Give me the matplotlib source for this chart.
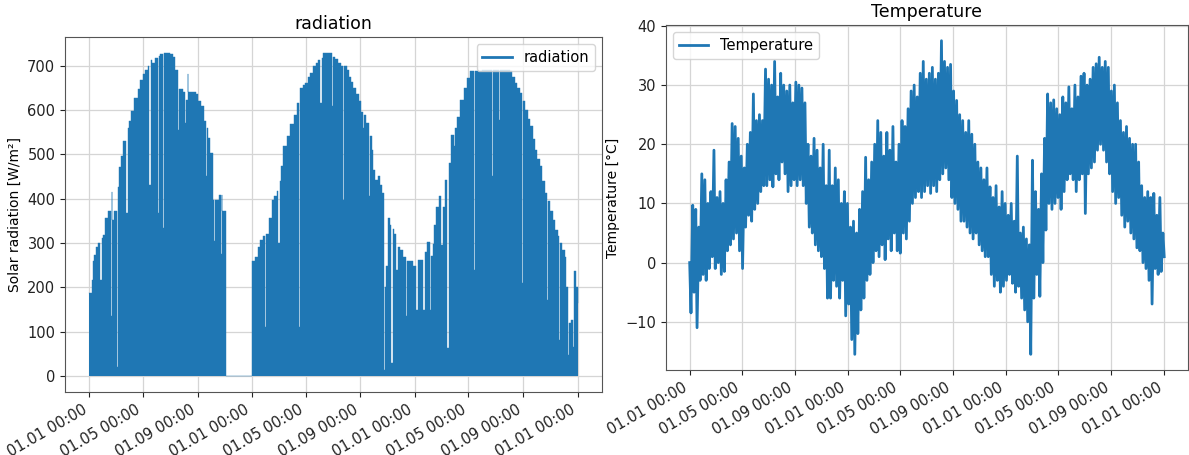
import numpy as np
import matplotlib
matplotlib.use('Agg')
import matplotlib.pyplot as plt
import matplotlib.dates as mdates
from matplotlib.lines import Line2D

# radiation: daily peak samples (day offset from 01.01 of first year, W/m2)
rad_day_y1 = [0, 6, 9, 10, 14, 20, 24.5, 27.5, 30, 36, 42, 47.5, 50.5, 51, 56,
              61.6, 64.6, 67, 71, 76, 82.5, 85.5, 88, 94, 101, 108, 114, 120, 125, 131,
              134.5, 137.5, 140, 146, 153, 156, 158, 164, 167, 172, 180, 188, 193,
              197.6, 200.6, 203, 210, 214, 217, 220, 222, 230, 238, 244, 250, 257,
              261, 264, 265, 271, 277, 279, 282, 285, 290, 294, 297, 298, 301, 307]
rad_peak_y1 = [187, 217, 260, 272, 290, 300, 217, 310, 318, 357, 372, 134, 414, 352, 372,
               21, 427, 470, 495, 529, 367, 560, 575, 597, 627, 646, 668, 680, 690, 700,
               431, 713, 705, 717, 367, 722, 725, 333, 728, 728, 726, 720, 690,
               555, 646, 646, 640, 570, 623, 680, 640, 640, 636, 620, 608, 574,
               450, 560, 537, 503, 397, 305, 397, 397, 409, 275, 409, 371, 371, 0]

rad_day_y2 = [365, 372, 378, 383, 390, 394, 397, 402, 409, 415, 420, 424, 427, 430, 435,
              443, 450, 458, 465, 469, 472, 478, 483, 490, 495, 502, 508, 513, 518, 521,
              524, 532, 539, 544, 547, 551, 558, 564, 569, 572, 577, 582, 587, 592, 598,
              604, 610, 614, 617, 621, 626, 629, 633, 637, 641, 647, 652, 656, 660, 663,
              666, 670, 674, 677, 680, 684, 688, 692, 696, 703, 709, 712, 718, 726]
rad_peak_y2 = [258, 269, 290, 307, 315, 111, 320, 357, 397, 405, 416, 300, 440, 473, 518,
               540, 567, 589, 616, 111, 650, 655, 661, 675, 683, 698, 705, 713, 616, 718,
               728, 728, 728, 608, 720, 715, 706, 700, 397, 698, 690, 675, 662, 650, 635,
               620, 595, 560, 589, 570, 405, 540, 510, 465, 442, 450, 430, 412, 14, 200,
               247, 356, 340, 29, 331, 321, 239, 290, 284, 269, 134, 258, 258, 247]

rad_day_y3 = [733, 737, 742, 748, 753, 758, 763, 766, 770, 774, 778, 784, 789, 793, 797,
              803, 806, 810, 817, 821, 825, 832, 840, 847, 854, 862, 865, 870, 880, 891,
              898, 903, 906, 912, 918, 921, 930, 943, 949, 955, 960, 966, 970, 973, 977,
              983, 988, 994, 999, 1005, 1011, 1016, 1022, 1026, 1029, 1033, 1040, 1045,
              1050, 1053, 1056, 1059, 1066, 1070, 1073, 1076, 1081, 1085, 1088, 1091, 1095]
rad_peak_y3 = [149, 261, 261, 149, 280, 303, 149, 270, 298, 340, 382, 405, 296, 380, 442,
               63, 480, 544, 518, 560, 585, 623, 650, 672, 687, 239, 687, 687, 690, 690,
               690, 450, 690, 690, 578, 690, 690, 688, 675, 661, 650, 638, 209, 620, 600,
               580, 563, 535, 510, 490, 473, 440, 412, 172, 395, 371, 352, 330,
               315, 81, 300, 284, 269, 200, 47, 119, 127, 64, 236, 200, 164]

# temperature: weekly high / low (deg C)
temp_hi = [0, 9.7, 9, 6, 15, 14, 10, 12, 19, 11,
           12, 10, 14, 17, 23.5, 23, 21, 18, 16, 20,
           22, 28.5, 24, 25, 24, 32.7, 31, 30, 34, 28,
           32, 30, 29, 30, 27, 30.5, 30, 29.5, 27, 20,
           18, 21, 19, 16, 20, 13, 19, 13, 16, 14,
           10, 12, 10, 6, 7, 5, 9, 12, 17.8, 14,
           17, 20, 24, 22, 18, 22, 19, 23, 17, 20,
           24, 23, 26, 29, 30, 28, 32, 34, 31, 32,
           33, 31, 32, 37.5, 34, 33, 33.5, 29, 27.4, 25,
           24, 22, 24, 21.7, 20, 17, 16, 14, 16, 12.8,
           11, 13, 9.4, 12, 10, 8, 10, 7, 18, 5,
           6, 4, 3, 17.3, 12, 9, 15, 21, 28.5, 27,
           27.5, 26, 25, 28, 27, 29.7, 26, 30, 28, 31.5,
           32, 30, 31, 33, 33.6, 34.7, 33, 34, 33, 29,
           30, 27, 24, 22, 23, 21, 20, 20, 17, 13,
           11, 12, 11, 11.7, 8, 11, 5]
temp_lo = [-8.5, -5, -11, -3, -2, -3, -1, 1, -1, 0,
           -2, -1.5, 2, 3, 4, 5, 2, -1, 6, 8,
           7, 9, 10, 12, 13, 13, 14, 12.8, 15, 14,
           17, 15, 12, 13, 14, 13, 14, 13, 10, 6,
           5, 3, 2, 1, -1, -6, -6, -3, -4, -6,
           -3, -9, -7, -13, -15.5, -12, -8, -6, -3, -2,
           0, 2, 1, 3, 0.5, 4, 2, 5, 2, 1.6,
           5, 4, 7, 10, 11, 12, 11, 12, 13, 11.7,
           13, 12, 14, 15, 16, 14, 11, 10, 9, 7,
           7, 6, 5, 4, 5, 3, 2, 1, 1, -2,
           -4, -3, -5, -4, -3, -2, -3.5, -5, -4, -6,
           -8, -10, -15.5, -6, -2, -5.7, 0, 5.5, 10, 9,
           10, 11, 9, 12, 14, 15, 14, 12, 14, 15,
           8.3, 15, 16, 17, 19, 20, 19, 17, 15, 12,
           10, 11, 8, 6, 7, 5, 4, 2.5, 2, 0,
           -1, -3, -7, -1, -2, -1.5, 1]

start = np.datetime64('2017-01-01T00:00')
blue = '#1f77b4'


def to_dates(days):
    hours = np.round(np.asarray(days, dtype=float) * 24).astype(int)
    return start + hours.astype('timedelta64[h]')


def style_axis(ax):
    ax.xaxis.set_major_locator(mdates.MonthLocator(bymonth=[1, 5, 9]))
    ax.xaxis.set_major_formatter(mdates.DateFormatter('%d.%m %H:%M'))
    ax.set_axisbelow(True)
    ax.grid(True, color='#d5d5d5', lw=0.9)
    ax.tick_params(labelsize=10.5, colors='#222222')
    for s in ax.spines.values():
        s.set_color('#555555')


fig = plt.figure(figsize=(11.89, 4.55), dpi=100)

# radiation
ax1 = fig.add_axes([0.0547, 0.1385, 0.4516, 0.7802])
rad_day = rad_day_y1 + rad_day_y2 + rad_day_y3
rad_peak = rad_peak_y1 + rad_peak_y2 + rad_peak_y3
rad_dates = to_dates(rad_day)
ax1.fill_between(rad_dates, 0, rad_peak, step='post', color=blue, lw=0)
ax1.step(rad_dates, rad_peak, where='post', color=blue, lw=0.3)
ax1.set_title('radiation', fontsize=12.5)
ax1.set_ylabel('Solar radiation [W/m²]', fontsize=10)
ax1.legend([Line2D([], [], color=blue, lw=2)], ['radiation'], loc='upper right', fontsize=10.5)
style_axis(ax1)

# temperature
ax2 = fig.add_axes([0.5601, 0.1868, 0.439, 0.7582])
weeks = np.arange(len(temp_hi)) * 7
t_days = np.ravel(np.column_stack([weeks, weeks + 3]))
t_vals = np.ravel(np.column_stack([temp_hi, temp_lo]))
ax2.plot(to_dates(t_days), t_vals, color=blue, lw=2, label='Temperature')
ax2.set_title('Temperature', fontsize=12.5)
ax2.set_ylabel('Temperature [°C]', fontsize=10)
ax2.legend(loc='upper left', fontsize=10.5)
style_axis(ax2)

fig.canvas.draw()
for ax in (ax1, ax2):
    plt.setp(ax.get_xticklabels(), rotation=30, ha='right')

fig.savefig('out.png', dpi=100)
